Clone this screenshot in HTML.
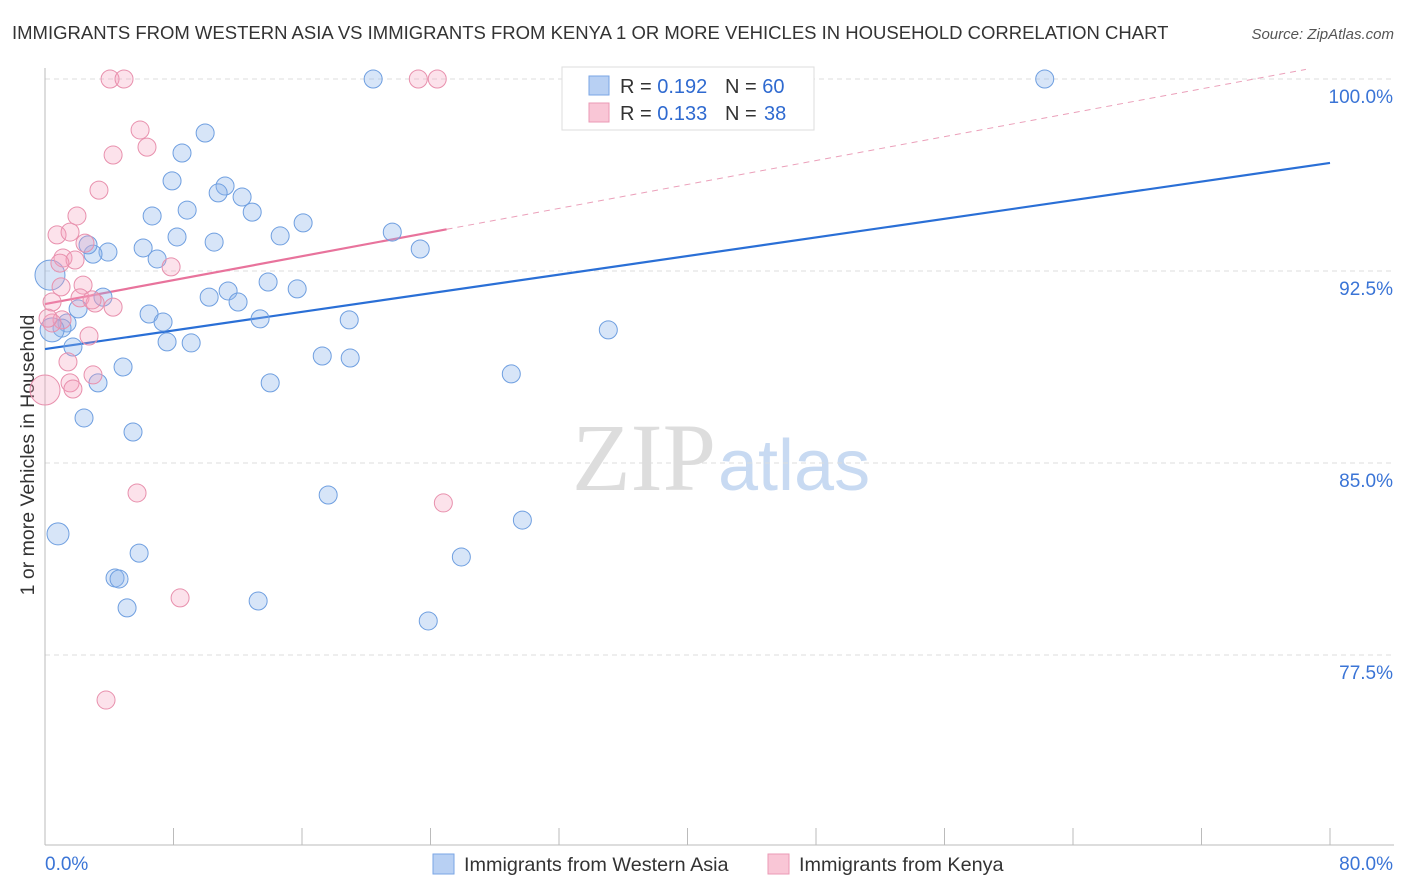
<!DOCTYPE html>
<html><head><meta charset="utf-8"><style>
body{margin:0;background:#fff;font-family:"Liberation Sans",sans-serif;}
svg{display:block}
</style></head><body>
<svg id="chart" width="1406" height="892">
<text x="12" y="39" font-size="18.5" fill="#333">IMMIGRANTS FROM WESTERN ASIA VS IMMIGRANTS FROM KENYA 1 OR MORE VEHICLES IN HOUSEHOLD CORRELATION CHART</text>
<text x="1394" y="39" font-size="15" fill="#555" font-style="italic" text-anchor="end">Source: ZipAtlas.com</text>
<text x="716" y="490" font-size="96" font-family="Liberation Serif,serif" fill="#ddd" text-anchor="end">ZIP</text>
<text x="718" y="490" font-size="72" fill="#c8daf2">atlas</text>
<text transform="translate(34,455) rotate(-90)" font-size="19.5" fill="#333" text-anchor="middle">1 or more Vehicles in Household</text>
<g id="grid"></g><g id="axes"></g><g id="trends"></g><g id="points"></g>
<g>
<rect x="562" y="67" width="252" height="63" fill="#fff" stroke="#ddd"/>
<rect x="589" y="76" width="20" height="19" fill="#b8d0f3" stroke="#7aa6e6"/>
<rect x="589" y="103" width="20" height="19" fill="#f9c6d6" stroke="#eb9ab5"/>
<text x="620" y="93" font-size="20" fill="#333">R = <tspan fill="#2f6ad0">0.192</tspan></text>
<text x="725" y="93" font-size="20" fill="#333">N = <tspan fill="#2f6ad0">60</tspan></text>
<text x="620" y="120" font-size="20" fill="#333">R = <tspan fill="#2f6ad0">0.133</tspan></text>
<text x="725" y="120" font-size="20" fill="#333">N = <tspan fill="#2f6ad0" x="764">38</tspan></text>
</g>
<g>
<rect x="433" y="854" width="21" height="20" fill="#b8d0f3" stroke="#7aa6e6"/>
<text x="464" y="871" font-size="19.8" fill="#333">Immigrants from Western Asia</text>
<rect x="768" y="854" width="21" height="20" fill="#f9c6d6" stroke="#eb9ab5"/>
<text x="799" y="871" font-size="19.8" fill="#333">Immigrants from Kenya</text>
</g>
</svg>
<script>
const xTickVals=[0,10,20,30,40,50,60,70,80];
const yTickVals=[100,92.5,85,77.5];
const yTickLabels=["100.0%","92.5%","85.0%","77.5%"];
const xEndLabels=["0.0%","80.0%"];
const blueX=[20.43,42.36,62.24,9.97,8.53,7.91,11.21,10.78,12.27,8.85,6.67,12.90,16.07,14.64,8.22,10.53,21.62,6.11,3.92,2.99,2.68,6.98,23.36,13.89,11.40,15.70,10.22,12.02,3.61,2.06,6.48,7.35,13.39,18.94,1.37,1.06,0.44,35.07,7.60,9.10,1.74,17.26,19.00,4.86,29.03,3.30,14.02,2.43,5.48,17.63,29.72,0.81,5.86,25.92,4.36,4.61,5.11,13.27,23.86,0.31];
const blueY=[100,100,100,97.89,97.11,96.02,95.82,95.55,95.39,94.88,94.65,94.80,94.38,93.87,93.83,93.63,94.02,93.40,93.24,93.16,93.52,92.97,93.36,92.07,91.72,91.80,91.48,91.29,91.48,91.02,90.82,90.51,90.63,90.59,90.47,90.27,90.20,90.20,89.73,89.69,89.53,89.18,89.10,88.75,88.48,88.13,88.13,86.76,86.21,83.75,82.77,82.23,81.48,81.33,80.51,80.47,79.34,79.61,78.83,92.34];
const blueSize=[9,9,9,9,9,9,9,9,9,9,9,9,9,9,9,9,9,9,9,9,9,9,9,9,9,9,9,9,9,9,9,9,9,9,9,9,12,9,9,9,9,9,9,9,9,9,9,9,9,9,9,11,9,9,9,9,9,9,9,15];
const pinkX=[4.05,4.92,23.24,24.42,5.92,6.35,4.24,3.36,1.99,0.75,1.56,2.49,1.12,1.87,0.93,7.85,2.37,0.44,1.00,2.18,3.12,4.24,2.93,1.06,0.44,2.74,1.43,1.56,2.99,1.74,0,5.73,24.80,8.41,3.80,0.19];
const pinkY=[100,100,100,100,98.01,97.34,97.03,95.66,94.65,93.91,94.02,93.59,93.01,92.93,92.81,92.66,91.95,91.29,91.88,91.45,91.25,91.09,91.37,90.59,90.47,89.96,88.95,88.13,88.44,87.89,87.85,83.83,83.44,79.73,75.74,90.66];
const pinkSize=[9,9,9,9,9,9,9,9,9,9,9,9,9,9,9,9,9,9,9,9,9,9,9,9,9,9,9,9,9,9,15,9,9,9,9,9];
const blueTrend=[89.45,96.72];
const pinkTrend=[91.21,100.55];
const pinkSolidEnd=25.0;
const NS="http://www.w3.org/2000/svg";
const X=v=>45+v/80*1285;
const Y=v=>79+(100-v)/7.5*192;
function mk(tag,attrs,parent){const e=document.createElementNS(NS,tag);for(const k in attrs)e.setAttribute(k,attrs[k]);document.getElementById(parent).appendChild(e);return e;}
yTickVals.forEach((v,i)=>{
 const g=mk('line',{x1:45,x2:1394,y1:Y(v),y2:Y(v),stroke:'#ddd','stroke-dasharray':'5,4'},'grid');
 
 
 const t=mk('text',{x:1393,y:Y(v)+24,'font-size':19,fill:'#3a74d6','text-anchor':'end'},'grid');
 t.textContent=yTickLabels[i];
 
 
});
const ya=mk('line',{x1:45,x2:45,y1:68,y2:845,stroke:'#bbb'},'axes');


const xa=mk('line',{x1:45,x2:1394,y1:845,y2:845,stroke:'#bbb'},'axes');


for(let v=0;v<=80;v+=8){const tk=mk('line',{x1:X(v),x2:X(v),y1:828,y2:845,stroke:'#bbb'},'axes');
 
 }
[[0,'start',xEndLabels[0]],[80,'end',xEndLabels[1]]].forEach(([v,a,s])=>{
 const t=mk('text',{x:v===0?X(v):1393,y:870,'font-size':19,fill:'#3a74d6','text-anchor':a},'axes');
 t.textContent=s;
 
 
});
const bl=mk('line',{x1:X(0),y1:Y(blueTrend[0]),x2:X(80),y2:Y(blueTrend[1]),stroke:'#2a6fd6','stroke-width':2.2},'trends');


const pf=v=>pinkTrend[0]+(pinkTrend[1]-pinkTrend[0])*v/80;
const pl=mk('line',{x1:X(0),y1:Y(pf(0)),x2:X(pinkSolidEnd),y2:Y(pf(pinkSolidEnd)),stroke:'#e8739c','stroke-width':2.2},'trends');


const pd=mk('line',{x1:X(pinkSolidEnd),y1:Y(pf(pinkSolidEnd)),x2:X(78.5),y2:Y(pf(78.5)),stroke:'#eba0ba','stroke-width':1,'stroke-dasharray':'6,5'},'trends');


blueX.forEach((x,i)=>{const c=mk('circle',{cx:X(x),cy:Y(blueY[i]),r:blueSize[i],fill:'rgba(140,180,235,0.35)',stroke:'#6f9fe0','stroke-width':1},'points');
 
 });
pinkX.forEach((x,i)=>{const c=mk('circle',{cx:X(x),cy:Y(pinkY[i]),r:pinkSize[i],fill:'rgba(245,160,190,0.3)',stroke:'#e890ad','stroke-width':1},'points');
 
 });
</script>
</body></html>
